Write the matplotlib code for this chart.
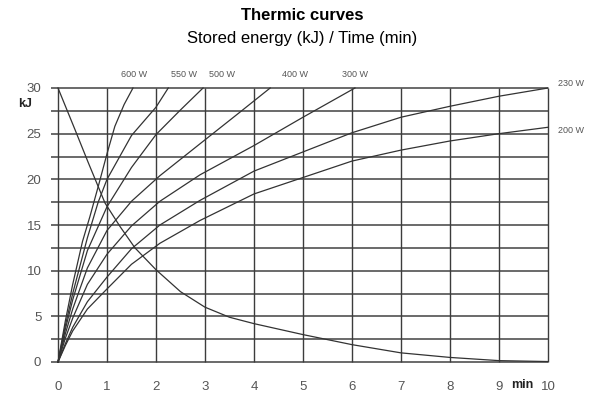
import matplotlib
matplotlib.use("Agg")
import matplotlib.pyplot as plt

plt.rcParams['font.family'] = ['Liberation Sans', 'DejaVu Sans']

# ---- data ----
t_600 = [0, 0.15, 0.3, 0.5, 0.65, 0.82, 1.0, 1.16, 1.35, 1.53]
e_600 = [0, 4.5, 8.5, 13.2, 15.9, 19.2, 22.8, 25.8, 28.2, 30]

t_550 = [0, 0.15, 0.3, 0.6, 0.82, 1.0, 1.5, 2.0, 2.25]
e_550 = [0, 4.0, 7.5, 13.6, 17.5, 20.0, 24.8, 27.9, 30]

t_500 = [0, 0.15, 0.3, 0.6, 1.0, 1.5, 2.0, 2.5, 2.96]
e_500 = [0, 3.6, 6.8, 12.2, 17.0, 21.3, 24.9, 27.6, 30]

t_400 = [0, 0.15, 0.3, 0.6, 1.0, 1.5, 2.08, 2.9, 3.7, 4.33]
e_400 = [0, 3.1, 5.8, 10.3, 14.4, 17.6, 20.4, 23.9, 27.3, 30]

t_300 = [0, 0.15, 0.3, 0.6, 1.0, 1.5, 2.08, 2.9, 4.0, 5.0, 6.06]
e_300 = [0, 2.6, 4.8, 8.5, 11.8, 14.9, 17.6, 20.5, 23.7, 26.8, 30]

t_230 = [0, 0.15, 0.3, 0.6, 1.0, 1.5, 2.08, 2.9, 4.0, 5.0, 6.0, 7.0, 8.0, 9.0, 10.0]
e_230 = [0, 2.0, 3.8, 6.6, 9.3, 12.4, 15.0, 17.7, 20.9, 23.0, 25.1, 26.8, 28.0, 29.1, 30.0]

t_200 = [0, 0.15, 0.3, 0.6, 1.0, 1.5, 2.08, 2.9, 4.0, 5.0, 6.0, 7.0, 8.0, 9.0, 10.0]
e_200 = [0, 1.8, 3.4, 5.8, 8.0, 10.7, 13.0, 15.5, 18.4, 20.2, 22.0, 23.2, 24.2, 25.0, 25.7]

t_cool = [0, 0.35, 0.62, 0.96, 1.27, 1.57, 2.0, 2.5, 3.0, 3.5, 4.0, 5.0, 6.0, 7.0, 8.0, 9.0, 10.0]
e_cool = [30, 25.4, 21.8, 17.4, 14.8, 12.5, 10.1, 7.7, 6.0, 4.9, 4.2, 3.0, 1.9, 1.0, 0.5, 0.15, 0.05]

series = [(t_600, e_600), (t_550, e_550), (t_500, e_500), (t_400, e_400),
          (t_300, e_300), (t_230, e_230), (t_200, e_200), (t_cool, e_cool)]

top_labels = ["600 W", "550 W", "500 W", "400 W", "300 W"]
top_label_x = [1.55, 2.57, 3.35, 4.84, 6.06]
right_labels = ["230 W", "200 W"]
right_label_y = [30.5, 25.3]

x_ticks = list(range(0, 11))
x_ticklabels = ["0", "1", "2", "3", "4", "5", "6", "7", "8", "9", "10"]
y_ticks = [0, 5, 10, 15, 20, 25, 30]
y_ticklabels = ["0", "5", "10", "15", "20", "25", "30"]
y_grid = [0, 2.5, 5, 7.5, 10, 12.5, 15, 17.5, 20, 22.5, 25, 27.5, 30]

# ---- figure ----
fig = plt.figure(figsize=(6.05, 3.96), dpi=100)
ax = fig.add_axes([58 / 605, 1 - 362 / 396, 490 / 605, 274 / 396])
ax.set_xlim(0, 10)
ax.set_ylim(0, 30)

for y in y_grid:
    ax.plot([-0.15, 10], [y, y], color='#5e5e5e', lw=1.3, clip_on=False, zorder=1,
            solid_capstyle='butt')
for x in x_ticks:
    ax.plot([x, x], [0, 30], color='#3c3c3c', lw=1.0, zorder=1, clip_on=False,
            solid_capstyle='butt')

for t, e in series:
    ax.plot(t, e, color='#333333', lw=0.9, zorder=3, clip_on=False)

for s in ax.spines.values():
    s.set_visible(False)
ax.set_xticks(x_ticks)
ax.set_xticklabels(x_ticklabels)
ax.set_yticks(y_ticks)
ax.set_yticklabels(y_ticklabels)
ax.tick_params(length=0, labelsize=9.5, labelcolor='#555555')
ax.tick_params(axis='x', pad=14)
ax.tick_params(axis='y', pad=12)

for lab, x in zip(top_labels, top_label_x):
    ax.text(x, 31.5, lab, ha='center', va='center', fontsize=6.5, color='#555555')
for lab, y in zip(right_labels, right_label_y):
    ax.text(10.2, y, lab, ha='left', va='center', fontsize=6.5, color='#555555')

ax.text(-0.67, 28.3, "kJ", ha='center', va='center', fontsize=9, fontweight='bold',
        color='#222222')
ax.text(9.48, -2.55, "min", ha='center', va='center', fontsize=9, fontweight='bold',
        color='#222222')

fig.text(0.5, 1 - 15 / 396, "Thermic curves", ha='center', va='center',
         fontsize=12, fontweight='bold')
fig.text(0.5, 1 - 38 / 396, "Stored energy (kJ) / Time (min)", ha='center',
         va='center', fontsize=12)

fig.savefig("out.png", dpi=100)
